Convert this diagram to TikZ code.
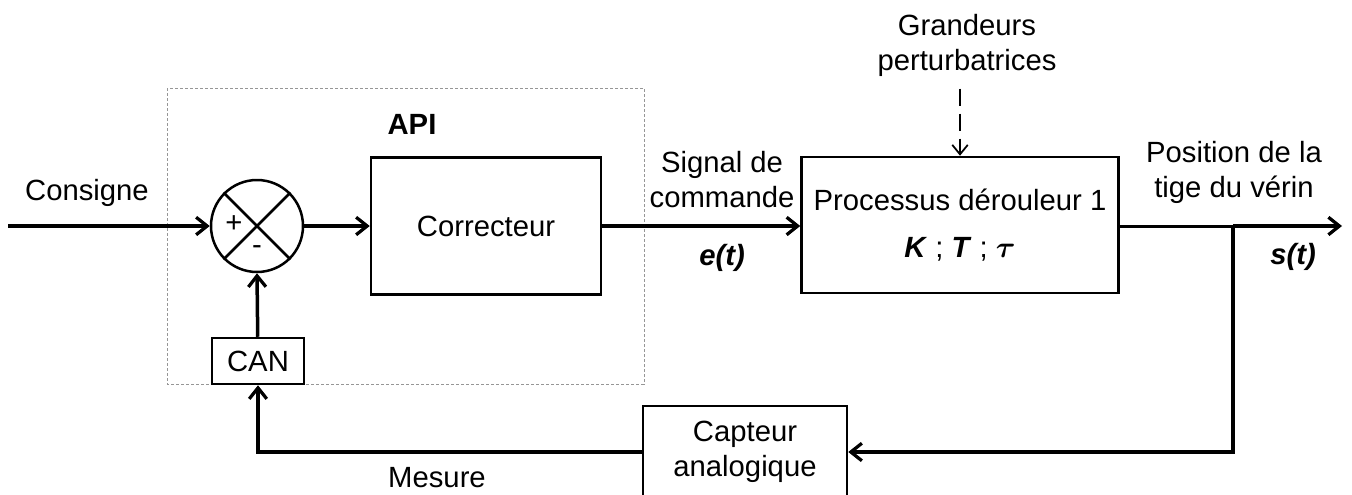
\documentclass[tikz,border=0pt]{standalone}
\usepackage{fontspec}
\setmainfont{Liberation Sans}
\usepackage{amsmath}
\usepackage{tikz}
\usetikzlibrary{arrows.meta, positioning, calc}
\definecolor{apigray}{RGB}{150, 150, 150}

\begin{document}
\begin{tikzpicture}[
  x=0.4pt, y=-0.4pt,
  font=\fontsize{11.7}{14}\selectfont,
  block/.style={rectangle, draw, line width=1pt, align=center, inner sep=0pt},
  sumnode/.style={circle, draw, line width=1pt, minimum size=36.8pt, inner sep=0pt},
  lbl/.style={align=center, inner sep=0pt},
  arrow/.style={-{Straight Barb[length=4.4pt, width=7pt, line width=1.3pt]}, line width=1.4pt},
  dasharrow/.style={-{Straight Barb[length=3.8pt, width=6.2pt]}, line width=0.7pt, dash pattern=on 7pt off 3pt},
]
  \useasboundingbox (0,0) rectangle (1352,494);
  \clip (0,0) rectangle (1352,494);

  % API frame
  \draw[apigray, line width=0.4pt, dash pattern=on 1.2pt off 0.8pt] (167,88) rectangle (644,384);
  \node[lbl, font=\fontsize{11.7}{14}\selectfont\bfseries] (api) at (412,124) {API};

  % blocks
  \node[sumnode] (sum) at (257,226) {};
  \node[block, minimum width=92pt, minimum height=54.8pt] (corr) at (486,226) {Correcteur};
  \node[block, minimum width=126.8pt, minimum height=54.4pt] (proc) at (960,225)
    {Processus d\'erouleur 1\\[4.8pt]\textbf{\textit{K}} ; \textbf{\textit{T}} ; $\boldsymbol{\tau}$};
  \node[block, minimum width=36.8pt, minimum height=18.4pt] (can) at (258,361) {CAN};
  \node[block, minimum width=81.6pt, minimum height=36.8pt] (capt) at (745,452) {Capteur\\analogique};

  % summing junction
  \draw[line width=1pt] (sum.north west) -- (sum.south east) (sum.north east) -- (sum.south west);
  \node[lbl] (plus) at (234,224) {+};
  \node[lbl] (minus) at (257,250) {-};

  % labels
  \node[lbl] (consigne) at (87,193) {Consigne};
  \node[lbl] (signal) at (722,180) {Signal de\\commande};
  \node[lbl, font=\fontsize{11.7}{14}\selectfont\bfseries\itshape] (et) at (722,258) {e(t)};
  \node[lbl] (grand) at (967,45) {Grandeurs\\perturbatrices};
  \node[lbl] (position) at (1234,172) {Position de la\\tige du v\'erin};
  \node[lbl, font=\fontsize{11.7}{14}\selectfont\bfseries\itshape] (st) at (1293,257) {s(t)};
  \node[lbl] (mesure) at (437,478) {Mesure};

  \coordinate (in) at (8,226);
  \coordinate (branch) at (1233,226);
  \coordinate (out) at (1342,226);

  % connectors
  \draw[arrow] (in) -- (sum.west);
  \draw[arrow] (sum) -- (corr);
  \draw[arrow] (corr.east) -- (proc.west |- corr.east);
  \draw[dasharrow] ($(grand.south -| proc.north)+(0,12)$) -- (proc.north);
  \draw[line width=1.2pt] (proc.east |- branch) -- (branch);
  \draw[arrow] (branch) -- (out);
  \draw[arrow] (branch) |- (capt.east);
  \draw[arrow] (capt.west) -| (can.south);
  \draw[arrow] (can) -- (sum.south);
\end{tikzpicture}
\end{document}
